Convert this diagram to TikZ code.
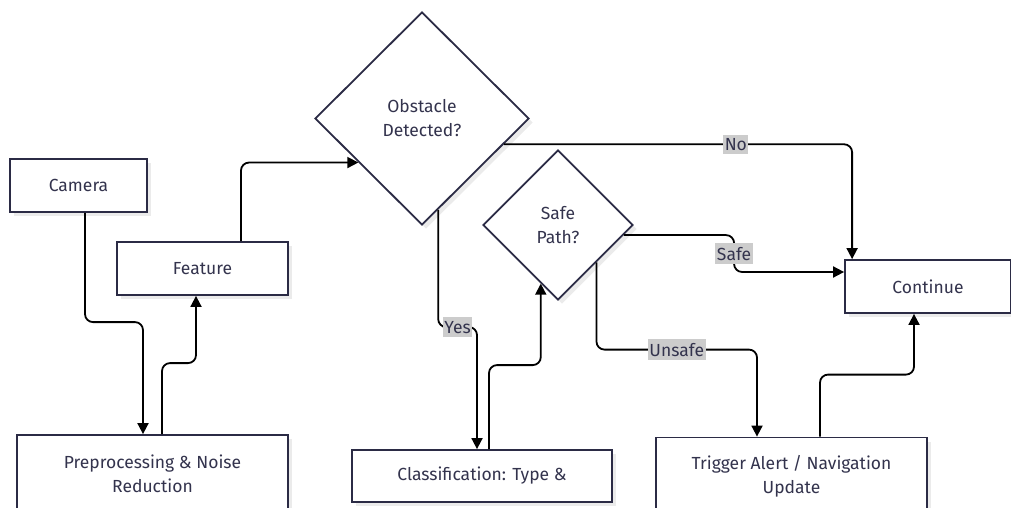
\documentclass[tikz,border=0pt]{standalone}
\usepackage{fontspec}
\setmainfont{Fira Sans}
\usetikzlibrary{shapes.geometric,arrows.meta,calc,shadows}
\definecolor{frame}{HTML}{2B2B45}
\definecolor{ink}{HTML}{33334D}
\definecolor{tag}{HTML}{CCCCCC}
\begin{document}
\begin{tikzpicture}[x=1pt,y=-1pt,
  txt/.style={font=\fontsize{17.5}{24}\selectfont, text=ink, align=center},
  box/.style={txt, draw=frame, line width=1.8pt, fill=white, inner sep=0pt,
    drop shadow={shadow xshift=4pt, shadow yshift=-4pt, fill=black, opacity=0.08}},
  decision/.style={box, diamond, aspect=1},
  flow/.style={line width=1.8pt, draw=black, rounded corners=8pt,
    -{Triangle[width=11pt,length=11pt]}},
  tagbox/.style={txt, fill=tag, text=ink, inner xsep=1.5pt, inner ysep=3.5pt, sharp corners}]
\useasboundingbox (0,0) rectangle (1011,508);
\clip (0,0) rectangle (1011,508);

% process boxes
\node[box, minimum width=137pt, minimum height=53pt] (cam) at (78.5,185.5) {Camera};
\node[box, minimum width=171pt, minimum height=53pt] (feat) at (202.5,268.5) {Feature};
\node[box, minimum width=271pt, minimum height=77pt] (pre) at (152.5,473.5) {Preprocessing \& Noise\\Reduction};
\node[box, minimum width=260pt, minimum height=52pt] (cls) at (482,476) {Classification: Type \&};
\node[box, minimum width=271pt, minimum height=77pt] (trig) at (791.5,476) {Trigger Alert / Navigation\\Update};
\node[box, minimum width=166pt, minimum height=53pt] (cont) at (928,286.5) {Continue};

% decisions
\node[decision, minimum width=214pt, minimum height=213pt] (obs) at (422,118.5) {Obstacle\\Detected?};
\node[decision, minimum width=150pt, minimum height=150pt] (safe) at (558,225) {Safe\\Path?};

% connectors
\draw[flow] ($(cam.south)+(6.5,0)$) |- ($(pre.north)+(-9.5,-112)$) -- ($(pre.north)+(-9.5,0)$);
\draw[flow] ($(pre.north)+(9.5,0)$) -- ++(0,-71) -| ($(feat.south)+(-6.5,0)$);
\draw[flow] ($(feat.north)+(38.5,0)$) |- ($(obs.west)!0.41!(obs.south)$);
\draw[flow] ($(obs.south)!0.15!(obs.east)$) |- node[tagbox, pos=0.75] {Yes} ($(cls.north)+(-5,-122)$) -- ($(cls.north)+(-5,0)$);
\draw[flow] ($(cls.north)+(7,0)$) -- ++(0,-84) -| ($(safe.west)!0.773!(safe.south)$);
\draw[flow] ($(obs.east)!0.24!(obs.south)$) -| node[tagbox, pos=0.333] {No} ($(cont.north west)+(8,0)$);
\draw[flow] ($(safe.east)!0.133!(safe.south)$) -| node[tagbox, pos=0.75] {Safe} ($(cont.west)+(-110,-14.5)$) -- ($(cont.west)+(0,-14.5)$);
\draw[flow] ($(safe.east)!0.493!(safe.south)$) |- node[tagbox, pos=0.75] {Unsafe} ($(trig.north)+(-34.5,-87)$) -- ($(trig.north)+(-34.5,0)$);
\draw[flow] ($(trig.north)+(28.5,0)$) -- ++(0,-62) -| ($(cont.south)+(-14,0)$);
\end{tikzpicture}
\end{document}
